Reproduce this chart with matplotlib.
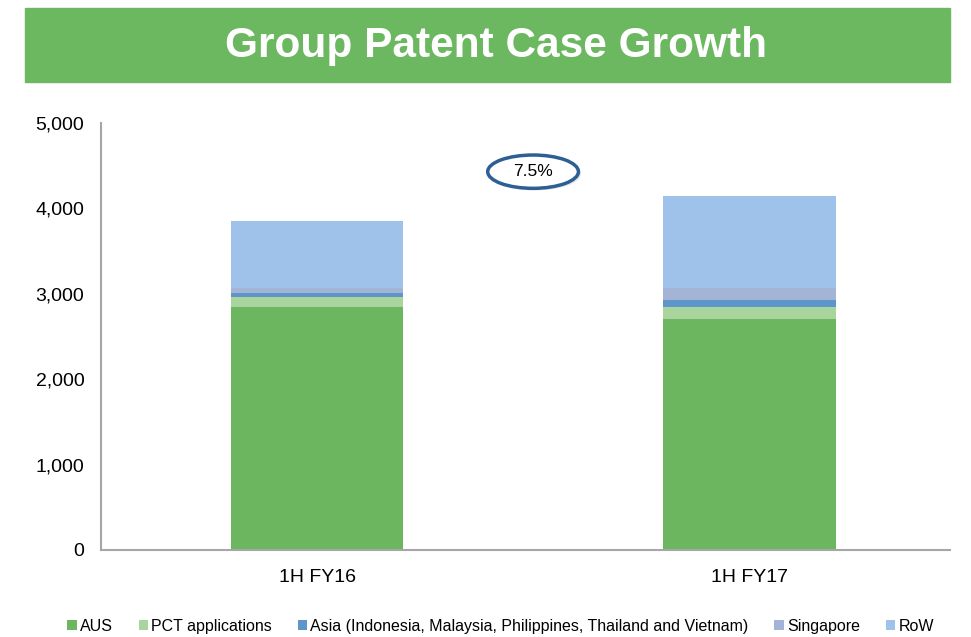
import matplotlib
matplotlib.use("Agg")
import matplotlib.pyplot as plt
from matplotlib.patches import Rectangle, Ellipse
import numpy as np

plt.rcParams['font.family'] = ['Liberation Sans', 'DejaVu Sans']

periods = ['1H FY16', '1H FY17']
series = ['AUS', 'PCT applications',
          'Asia (Indonesia, Malaysia, Philippines, Thailand and Vietnam)',
          'Singapore', 'RoW']
aus = [2842, 2708]
pct = [124, 137]
asia = [40, 79]
singapore = [58, 147]
row = [792, 1074]
growth_label = '7.5%'

colors = ['#6BB65F', '#AAD49E', '#5E95CA', '#A3B4D6', '#9EC2E9']

fig = plt.figure(figsize=(9.71, 6.37), dpi=100)

# title banner
fig.patches.append(Rectangle((25 / 971, 1 - 82 / 637), 925 / 971, 74 / 637,
                             transform=fig.transFigure, color='#6BB860', zorder=0))
fig.text(496 / 971, 1 - 46 / 637, 'Group Patent Case Growth', color='white',
         fontsize=30.5, fontweight='bold', ha='center', va='center')

ax = fig.add_axes([101 / 971, 1 - 550 / 637, 849 / 971, 427 / 637])
x = np.arange(len(periods))
bottom = np.zeros(len(periods))
for name, vals, c in zip(series, [aus, pct, asia, singapore, row], colors):
    ax.bar(x, vals, width=0.4, bottom=bottom, color=c, label=name)
    bottom += np.array(vals)

ax.set_xlim(-0.5, 1.465)
ax.set_ylim(0, 5000)
ax.set_yticks(range(0, 5001, 1000))
ax.set_yticklabels([f'{v:,}' for v in range(0, 5001, 1000)])
ax.set_xticks(x)
ax.set_xticklabels(periods)
ax.tick_params(axis='both', length=0, labelsize=14, pad=12)
ax.tick_params(axis='x', pad=14)
for s in ['top', 'right']:
    ax.spines[s].set_visible(False)
for s in ['left', 'bottom']:
    ax.spines[s].set_color('#A6A6A6')
    ax.spines[s].set_linewidth(1.5)

# growth bubble
ex, ey = 0.5, 4430
ax.add_patch(Ellipse((ex + 0.006, ey - 25), 0.21, 390, facecolor='#D9D9D9',
                     edgecolor='none', alpha=0.6, zorder=3))
ax.add_patch(Ellipse((ex, ey), 0.21, 390, facecolor='white',
                     edgecolor='#2E5F94', linewidth=2.5, zorder=4))
ax.text(ex, ey, growth_label, ha='center', va='center', fontsize=12.5, zorder=5)

ax.legend(loc='center', bbox_to_anchor=(0.5 - 25 / 849, -0.178), ncol=5,
          frameon=False, fontsize=11.5, handlelength=0.6, handleheight=0.6,
          handletextpad=0.2, columnspacing=1.6)

fig.savefig('out.png', dpi=100)
